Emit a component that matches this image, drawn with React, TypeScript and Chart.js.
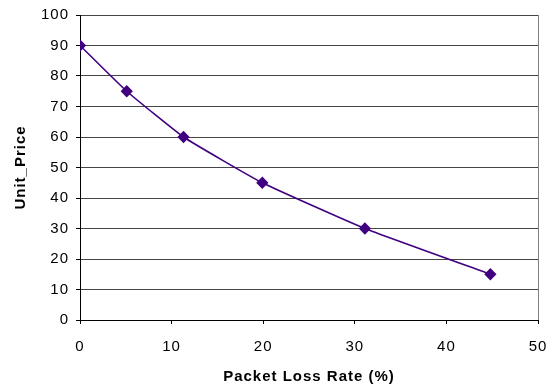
import React, { useEffect, useRef } from "react";
import { Chart, registerables } from "chart.js";

Chart.register(...registerables);

const lossRates = [0, 5.1, 11.3, 19.9, 31.1, 44.8];
const unitPrices = [90, 75, 60, 45, 30, 15];
const xTitle = "Packet Loss Rate (%)";
const yTitle = "Unit_Price";

const FONT = "'Liberation Sans', Arial, sans-serif";

export default function App() {
  const ref = useRef<HTMLCanvasElement | null>(null);

  useEffect(() => {
    document.body.style.margin = "0";
    const canvas = ref.current;
    if (!canvas) return;
    const spacing = {
      id: "spacing",
      beforeDraw(chart: any) {
        try {
          chart.ctx.letterSpacing = "1px";
        } catch (e) {}
      },
    };
    const chart = new Chart(canvas, {
      type: "line",
      data: {
        datasets: [
          {
            data: lossRates.map((x, i) => ({ x, y: unitPrices[i] })),
            borderColor: "#400080",
            backgroundColor: "#400080",
            borderWidth: 1.6,
            pointStyle: "rectRot",
            pointRadius: 5,
            pointHoverRadius: 5,
            tension: 0.12,
            fill: false,
          },
        ],
      },
      options: {
        animation: false,
        responsive: false,
        layout: { padding: { top: 15, right: 16, left: 0, bottom: 0 } },
        plugins: { legend: { display: false }, tooltip: { enabled: false } },
        scales: {
          x: {
            type: "linear",
            min: 0,
            max: 50,
            ticks: { stepSize: 10, color: "#000", font: { family: FONT, size: 15 }, padding: 14 },
            grid: {
              drawOnChartArea: true,
              color: (c: any) => (c.tick && c.tick.value === 50 ? "#808080" : "rgba(0,0,0,0)"),
              tickColor: "#000",
              tickLength: 4,
            },
            border: { color: "#000", width: 1 },
            title: {
              display: true,
              text: xTitle,
              color: "#000",
              font: { family: FONT, size: 15, weight: "bold" },
              padding: { top: 0, bottom: 1 },
            },
            afterFit(scale: any) {
              scale.height = 67;
              scale.paddingLeft = 0;
              scale.paddingRight = 0;
            },
          },
          y: {
            min: 0,
            max: 100,
            ticks: { stepSize: 10, color: "#000", font: { family: FONT, size: 15 }, padding: 7 },
            grid: { color: "#454545", tickColor: "#000", tickLength: 4 },
            border: { color: "#000", width: 1 },
            title: {
              display: true,
              text: yTitle,
              color: "#000",
              font: { family: FONT, size: 15, weight: "bold" },
              padding: { top: 12, bottom: 0 },
            },
            afterFit(scale: any) {
              scale.width = 80;
              scale.paddingTop = 0;
              scale.paddingBottom = 0;
            },
          },
        },
      },
      plugins: [spacing],
    } as any);
    return () => chart.destroy();
  }, []);

  return (
    <div style={{ width: 554, height: 387 }}>
      <canvas ref={ref} width={554} height={387} style={{ display: "block" }} />
    </div>
  );
}
